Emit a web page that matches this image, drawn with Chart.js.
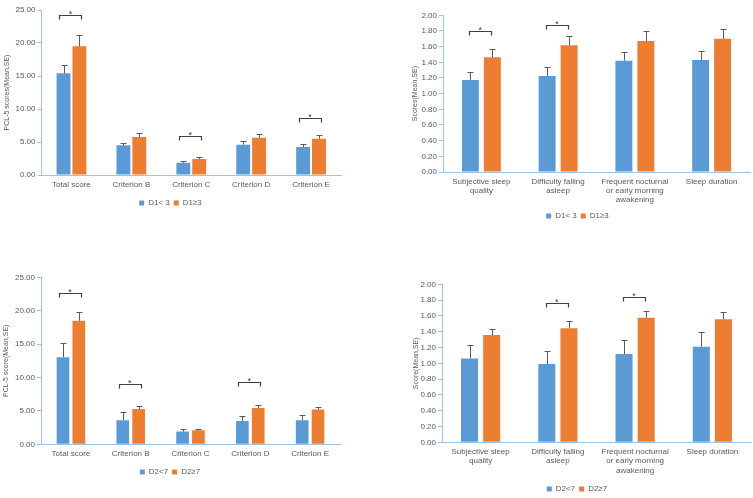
<!DOCTYPE html>
<html><head><meta charset="utf-8">
<script src="https://cdn.jsdelivr.net/npm/chart.js@4.4.0/dist/chart.umd.min.js"></script>
<style>
html,body{margin:0;padding:0;background:#fff;overflow:hidden;width:753px;height:498px;}
.p{position:absolute;}
</style></head><body>
<div class="p" style="left:0px;top:0px;width:344px;height:217px"><canvas id="c1"></canvas></div>
<div class="p" style="left:405px;top:0px;width:350px;height:230px"><canvas id="c2"></canvas></div>
<div class="p" style="left:0px;top:250px;width:344px;height:236px"><canvas id="c3"></canvas></div>
<div class="p" style="left:403px;top:250px;width:350px;height:253px"><canvas id="c4"></canvas></div>
<script>
// ---- categories ----
const pclCategories = ['Total score', 'Criterion B', 'Criterion C', 'Criterion D', 'Criterion E'];
const sleepCategories = [['Subjective sleep', 'quality'], ['Difficulty falling', 'asleep'], ['Frequent nocturnal', 'or early morning', 'awakening'], 'Sleep duration'];

// ---- series names ----
const d1Names = ['D1< 3', 'D1\u22653'];
const d2Names = ['D2<7', 'D2\u22657'];

// ---- panel A: PCL-5 by D1 ----
const pclD1Low = [15.4, 4.5, 1.86, 4.6, 4.24];
const pclD1LowSE = [1.2, 0.4, 0.21, 0.5, 0.41];
const pclD1High = [19.5, 5.76, 2.42, 5.65, 5.5];
const pclD1HighSE = [1.7, 0.54, 0.31, 0.52, 0.5];
const pclD1Sig = [24.2, null, 5.95, null, 8.6];

// ---- panel B: sleep by D1 ----
const sleepD1Low = [1.175, 1.226, 1.42, 1.43];
const sleepD1LowSE = [0.095, 0.12, 0.116, 0.115];
const sleepD1High = [1.465, 1.618, 1.673, 1.70];
const sleepD1HighSE = [0.10, 0.115, 0.124, 0.122];
const sleepD1Sig = [1.797, 1.877, null, null];

// ---- panel C: PCL-5 by D2 ----
const pclD2Low = [13.05, 3.6, 1.9, 3.5, 3.6];
const pclD2LowSE = [2.15, 1.3, 0.4, 0.8, 0.8];
const pclD2High = [18.5, 5.3, 2.1, 5.45, 5.2];
const pclD2HighSE = [1.25, 0.5, 0.25, 0.4, 0.35];
const pclD2Sig = [22.7, 9.0, null, 9.35, null];

// ---- panel D: sleep by D2 ----
const sleepD2Low = [1.062, 0.99, 1.117, 1.21];
const sleepD2LowSE = [0.168, 0.165, 0.173, 0.186];
const sleepD2High = [1.358, 1.443, 1.578, 1.557];
const sleepD2HighSE = [0.072, 0.097, 0.082, 0.097];
const sleepD2Sig = [null, 1.76, 1.844, null];

const BLUE = '#5B9BD5', ORANGE = '#ED7D31', AXIS = '#9DC3E6', TXT = '#595959';
const FONT = '"Liberation Sans", Arial, sans-serif';

const errSig = {
  id: 'errSig',
  afterDatasetsDraw(chart, args, opts) {
    const ctx = chart.ctx, xs = chart.scales.x, ys = chart.scales.y;
    ctx.save();
    ctx.strokeStyle = '#5a5a5a'; ctx.lineWidth = 1;
    (opts.errors || []).forEach((se, di) => {
      const ds = chart.data.datasets[di];
      chart.getDatasetMeta(di).data.forEach((bar, i) => {
        const xb = Math.round(bar.x) + 0.5;
        const y1 = Math.round(ys.getPixelForValue(ds.data[i] + se[i])) + 0.5;
        ctx.beginPath();
        ctx.moveTo(xb, bar.y); ctx.lineTo(xb, y1);
        ctx.moveTo(xb - 3, y1); ctx.lineTo(xb + 3, y1);
        ctx.stroke();
      });
    });
    ctx.strokeStyle = '#404040'; ctx.fillStyle = '#404040'; ctx.lineWidth = 1.2;
    (opts.sig || []).forEach((v, i) => {
      if (v == null) return;
      const cx = xs.getPixelForValue(i) - 1;
      const yy = Math.round(ys.getPixelForValue(v)) + 0.5;
      const l = Math.round(cx - opts.half) + 0.5, r = Math.round(cx + opts.half) + 0.5;
      ctx.beginPath();
      ctx.moveTo(l, yy + 4); ctx.lineTo(l, yy); ctx.lineTo(r, yy); ctx.lineTo(r, yy + 4);
      ctx.stroke();
      ctx.font = '9px ' + FONT; ctx.textAlign = 'center'; ctx.textBaseline = 'alphabetic';
      ctx.fillText('*', cx, yy + 1);
    });
    ctx.restore();
  }
};

function makePanel(id, labels, names, low, lowSE, high, highSE, sig, yMax, yStep, yTitle, g) {
  new Chart(document.getElementById(id), {
    type: 'bar',
    data: {
      labels: labels,
      datasets: [
        { label: names[0], data: low, backgroundColor: BLUE, borderWidth: 0, categoryPercentage: g.cat, barPercentage: g.bar },
        { label: names[1], data: high, backgroundColor: ORANGE, borderWidth: 0, categoryPercentage: g.cat, barPercentage: g.bar }
      ]
    },
    options: {
      responsive: true, maintainAspectRatio: false, animation: false,
      layout: { padding: { top: g.top, right: g.right, left: 0, bottom: 0 } },
      plugins: {
        legend: {
          position: 'bottom',
          labels: { boxWidth: 5, boxHeight: 5, padding: 4, color: TXT, font: { family: FONT, size: 8 } }
        },
        tooltip: { enabled: false },
        errSig: { errors: [lowSE, highSE], sig: sig, half: g.half }
      },
      scales: {
        x: {
          grid: { display: false, drawTicks: false },
          border: { display: true, color: AXIS, width: 1 },
          ticks: { color: TXT, padding: 5, font: { family: FONT, size: 8, lineHeight: 1.15 }, maxRotation: 0, autoSkip: false },
          afterFit: s => { s.height = g.xh; }
        },
        y: {
          min: 0, max: yMax,
          grid: { display: true, drawOnChartArea: false, drawTicks: true, tickLength: 4, color: AXIS },
          border: { display: true, color: AXIS, width: 1 },
          ticks: { stepSize: yStep, color: TXT, padding: 2, font: { family: FONT, size: 8 }, callback: v => Number(v).toFixed(2) },
          title: { display: true, text: yTitle, color: TXT, font: { family: FONT, size: 7 }, padding: { top: g.tp, bottom: 0 } },
          afterFit: s => { s.width = g.yw; }
        }
      }
    },
    plugins: [errSig]
  });
}

makePanel('c1', pclCategories, d1Names, pclD1Low, pclD1LowSE, pclD1High, pclD1HighSE, pclD1Sig, 25, 5, 'PCL-5 scores(Mean,SE)',
  { top: 10, right: 3, yw: 41.5, xh: 20, tp: 2.8, cat: 0.53, bar: 0.875, half: 11 });
makePanel('c2', sleepCategories, d1Names, sleepD1Low, sleepD1LowSE, sleepD1High, sleepD1HighSE, sleepD1Sig, 2, 0.2, 'Scores(Mean,SE)',
  { top: 15.3, right: 5, yw: 38, xh: 36, tp: 5.5, cat: 0.573, bar: 0.77, half: 11 });
makePanel('c3', pclCategories, d2Names, pclD2Low, pclD2LowSE, pclD2High, pclD2HighSE, pclD2Sig, 25, 5, 'PCL-5 score(Mean,SE)',
  { top: 27.3, right: 4, yw: 41, xh: 19.7, tp: 2, cat: 0.53, bar: 0.8, half: 11 });
makePanel('c4', sleepCategories, d2Names, sleepD2Low, sleepD2LowSE, sleepD2High, sleepD2HighSE, sleepD2Sig, 2, 0.2, 'Score(Mean,SE)',
  { top: 34.3, right: 2, yw: 39, xh: 38.7, tp: 8.5, cat: 0.573, bar: 0.77, half: 11 });
</script>
</body></html>
